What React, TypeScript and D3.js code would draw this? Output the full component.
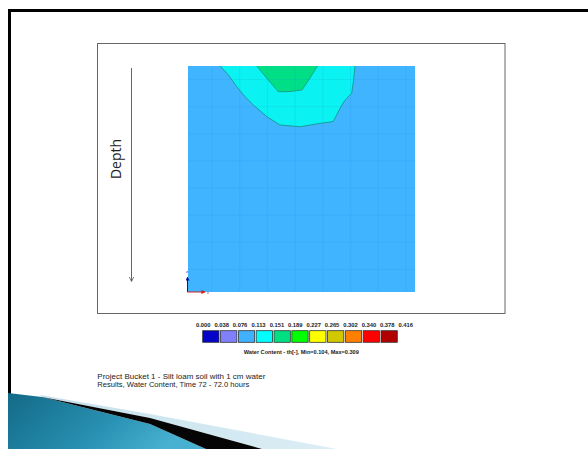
import React from "react";
import * as d3 from "d3";

// ---- data ----
const legendLabels = ["0.000", "0.038", "0.076", "0.113", "0.151", "0.189", "0.227", "0.265", "0.302", "0.340", "0.378", "0.416"];
const legendColors = ["#0505C8", "#8080FF", "#40B0FF", "#00FFFF", "#00E083", "#00FF00", "#FFFF00", "#D2C800", "#FF8000", "#FF0000", "#B00000"];

// domain in cm (width x depth)
const domainWidth = 100;
const domainDepth = 100;
const gridX = [10.5, 22.8, 35, 47.2, 59.4, 71.6, 83.8, 96];
const gridY = [6, 18, 30, 42, 54, 66, 78, 90];

// contour of the 0.113-0.151 band (cyan) [x cm, depth cm]
const cyanContour: [number, number][] = [
  [14.1, 0], [17.8, 4.0], [21.5, 9.2], [25.1, 13.6], [28.8, 17.3], [34.7, 22.4], [40.5, 26.1],
  [49.3, 26.9], [58.1, 25.4], [63.9, 24.6], [65.5, 21.7], [67.0, 18.7], [68.3, 16.4],
  [69.9, 14.3], [72.1, 12.1], [72.8, 7.5], [73.6, 0],
];
// contour of the 0.151-0.189 band (green)
const greenContour: [number, number][] = [
  [30.3, 0], [34.7, 5.4], [39.8, 11.4], [45, 11.3], [50.2, 10.6], [53.7, 5.4], [57.0, 0],
];

const titleLines = [
  "Project Bucket 1 - Silt loam soil with 1 cm water",
  "Results, Water Content, Time 72 - 72.0 hours",
];
const titleWidths = [168, 152];
const legendTitle = "Water Content  - th[-], Min=0.104, Max=0.309";

// decorative slide swoosh outlines
const swooshTeal: [number, number][] = [[8, 393], [42, 397], [150, 424], [206, 449], [8, 449]];
const swooshBlack: [number, number][] = [[42, 397], [150, 418], [262, 449], [206, 449], [150, 424]];
const swooshLight: [number, number][] = [[40, 395], [150, 414], [337, 449], [262, 449], [150, 418], [42, 397]];

export default function App() {
  const W = 588, H = 449;
  const x = d3.scaleLinear().domain([0, domainWidth]).range([188, 415]);
  const y = d3.scaleLinear().domain([0, domainDepth]).range([66, 292]);
  const line = d3.line<[number, number]>().x(d => x(d[0])).y(d => y(d[1]));
  const poly = d3.line<[number, number]>().x(d => d[0]).y(d => d[1]);

  const cyanPath = line(cyanContour)! + "Z";
  const greenPath = line(greenContour)! + "Z";

  const boxScale = d3.scaleLinear().domain([0, 1]).range([202.7, 202.7 + 17.83]);
  const labScale = d3.scaleLinear().domain([0, 1]).range([203.3, 203.3 + 18.4]);

  return (
    <svg width={W} height={H} style={{ position: "absolute", left: 0, top: 0, background: "#fff" }}>
      <defs>
        <linearGradient id="teal" x1="0" y1="0" x2="1" y2="0.3">
          <stop offset="0" stopColor="#136A86" />
          <stop offset="0.6" stopColor="#2890B2" />
          <stop offset="1" stopColor="#48B1D1" />
        </linearGradient>
        <linearGradient id="light" x1="0" y1="0" x2="1" y2="0">
          <stop offset="0" stopColor="#C5E1EC" />
          <stop offset="1" stopColor="#DCEEF5" />
        </linearGradient>
        <marker id="arr" viewBox="0 0 10 10" refX="9" refY="5" markerWidth="5" markerHeight="5" orient="auto">
          <path d="M0,0 L10,5 L0,10" fill="none" stroke="#555" strokeWidth="1.5" />
        </marker>
        <marker id="arrB" viewBox="0 0 10 10" refX="9" refY="5" markerWidth="4" markerHeight="4" orient="auto">
          <path d="M0,0 L10,5 L0,10 Z" fill="#1010A0" />
        </marker>
        <marker id="arrR" viewBox="0 0 10 10" refX="9" refY="5" markerWidth="4" markerHeight="4" orient="auto">
          <path d="M0,0 L10,5 L0,10 Z" fill="#D02020" />
        </marker>
      </defs>

      {/* slide frame */}
      <line x1={8} y1={10.5} x2={W} y2={10.5} stroke="#000" strokeWidth={3} />
      <line x1={9.5} y1={9} x2={9.5} y2={H} stroke="#000" strokeWidth={3} />

      {/* swoosh */}
      <path d={poly(swooshLight)! + "Z"} fill="url(#light)" />
      <path d={poly(swooshTeal)! + "Z"} fill="url(#teal)" />
      <path d={poly(swooshBlack)! + "Z"} fill="#050505" />

      {/* chart box */}
      <rect x={97.5} y={43.5} width={407.5} height={270} fill="#fff" stroke="#666" strokeWidth={1} />

      {/* depth arrow */}
      <line x1={131.5} y1={68} x2={131.5} y2={281} stroke="#666" strokeWidth={1} markerEnd="url(#arr)" />
      <text transform="translate(121,159) rotate(-90)" textAnchor="middle" fontFamily="Open Sans" fontSize={14} fill="#222">Depth</text>

      {/* domain */}
      <rect x={x(0)} y={y(0)} width={x(domainWidth) - x(0)} height={y(domainDepth) - y(0)} fill="#40B4FF" />
      <path d={cyanPath} fill="#0BF2F2" />
      <path d={greenPath} fill="#00DE86" />
      {gridX.map((g, i) => (
        <line key={"gx" + i} x1={x(g)} x2={x(g)} y1={y(0)} y2={y(domainDepth)} stroke="#1E8FD8" strokeOpacity={0.15} strokeWidth={1} />
      ))}
      {gridY.map((g, i) => (
        <line key={"gy" + i} y1={y(g)} y2={y(g)} x1={x(0)} x2={x(domainWidth)} stroke="#1E8FD8" strokeOpacity={0.15} strokeWidth={1} />
      ))}
      <path d={line(cyanContour)!} fill="none" stroke="#1B9C9C" strokeWidth={1} />
      <path d={line(greenContour)!} fill="none" stroke="#14A886" strokeWidth={1} />

      {/* axis glyph */}
      <line x1={x(0) - 0.5} y1={y(domainDepth)} x2={x(0) - 0.5} y2={y(domainDepth) - 15} stroke="#1010A0" strokeWidth={1} markerEnd="url(#arrB)" />
      <text x={x(0) - 2} y={y(domainDepth) - 19} fontFamily="Liberation Sans" fontSize={4} fill="#2020D0">z</text>
      <line x1={x(0) - 0.5} y1={y(domainDepth)} x2={x(0) + 17} y2={y(domainDepth)} stroke="#D02020" strokeWidth={1} markerEnd="url(#arrR)" />
      <text x={x(0) + 19} y={y(domainDepth) + 1.5} fontFamily="Liberation Sans" fontSize={4} fill="#D02020">x</text>

      {/* legend */}
      {legendColors.map((c, i) => (
        <rect key={"lb" + i} x={boxScale(i)} y={330.7} width={16.3} height={11.6} fill={c} stroke="#333" strokeWidth={0.8} />
      ))}
      {legendLabels.map((l, i) => (
        <text key={"ll" + i} x={labScale(i)} y={326.8} textAnchor="middle" fontFamily="Liberation Sans" fontWeight="bold" fontSize={5.8} fill="#222">{l}</text>
      ))}
      <text x={301.3} y={353.6} textAnchor="middle" fontFamily="Liberation Sans" fontWeight="bold" fontSize={5.6} fill="#222">{legendTitle}</text>

      {/* titles */}
      {titleLines.map((t, i) => (
        <text key={"t" + i} x={97.3} y={379.2 + i * 7.7} fontFamily="Liberation Sans" fontSize={6.8} textLength={titleWidths[i]} lengthAdjust="spacingAndGlyphs" fill="#222">{t}</text>
      ))}
    </svg>
  );
}
